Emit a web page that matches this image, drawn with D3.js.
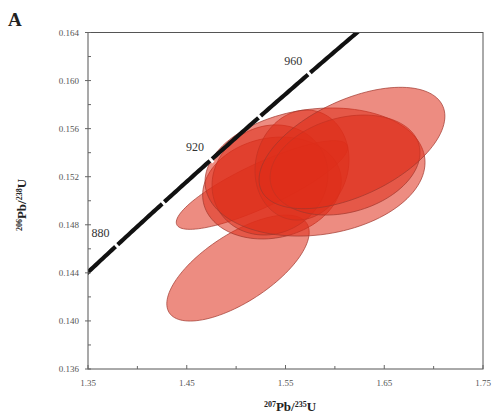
<!DOCTYPE html>
<html><head><meta charset="utf-8">
<script src="https://cdn.jsdelivr.net/npm/d3@7"></script>
<style>body{margin:0;background:#fff}svg{display:block}</style>
</head><body>
<script>
// ---- data ----
const xTicks = [1.35, 1.45, 1.55, 1.65, 1.75];
const xTickLabels = ["1.35", "1.45", "1.55", "1.65", "1.75"];
const yTicks = [0.136, 0.140, 0.144, 0.148, 0.152, 0.156, 0.160, 0.164];
const yTickLabels = ["0.136", "0.140", "0.144", "0.148", "0.152", "0.156", "0.160", "0.164"];
const markerAges = [880, 900, 920, 940, 960];      // Ma
const labelAges = [880, 920, 960];
// ellipse data: 207Pb/235U, 206Pb/238U, half-extent x, half-extent y, rho
const ellX   = [1.5019, 1.5262, 1.5363, 1.5343, 1.5667, 1.5799, 1.6103, 1.6173];
const ellY   = [0.14440, 0.15131, 0.15106, 0.15173, 0.15297, 0.15239, 0.15297, 0.15439];
const ellEx  = [0.0721, 0.0868, 0.0702, 0.0587, 0.0476, 0.1114, 0.0759, 0.0941];
const ellEy  = [0.00441, 0.00369, 0.00424, 0.00458, 0.00458, 0.00533, 0.00416, 0.00505];
const ellRho = [0.674, 0.841, 0.138, 0.10, 0.10, 0.15, 0.25, 0.523];

const L238 = 1.55125e-10, L235 = 9.8485e-10;

// ---- layout ----
const W = 494, H = 419;
const m = {left: 88, right: 11, top: 32.5, bottom: 50};
const svg = d3.select("body").append("svg").attr("width", W).attr("height", H);
const x = d3.scaleLinear().domain([1.35, 1.75]).range([m.left, W - m.right]);
const y = d3.scaleLinear().domain([0.136, 0.164]).range([H - m.bottom, m.top]);
const tf = "'Liberation Serif', 'Times New Roman', serif";

svg.append("defs").append("clipPath").attr("id", "clip")
  .append("rect").attr("x", x(1.35)).attr("y", y(0.164))
  .attr("width", x(1.75) - x(1.35)).attr("height", y(0.136) - y(0.164));

const plot = svg.append("g").attr("clip-path", "url(#clip)");

// ellipses
const line = d3.line().x(d => x(d[0])).y(d => y(d[1])).curve(d3.curveLinearClosed);
ellX.forEach((cx, i) => {
  const pts = d3.range(0, 120).map(k => {
    const t = k / 120 * 2 * Math.PI;
    const r = ellRho[i];
    return [cx + ellEx[i] * Math.cos(t),
            ellY[i] + ellEy[i] * (r * Math.cos(t) + Math.sqrt(1 - r * r) * Math.sin(t))];
  });
  plot.append("path").attr("d", line(pts))
    .attr("fill", "rgb(222,45,25)").attr("fill-opacity", 0.55)
    .attr("stroke", "rgb(160,55,45)").attr("stroke-opacity", 0.7).attr("stroke-width", 1);
});

// concordia
const conc = t => [Math.exp(L235 * t * 1e6) - 1, Math.exp(L238 * t * 1e6) - 1];
const cpts = d3.range(850, 1000, 1).map(conc);
plot.append("path").attr("d", d3.line().x(d => x(d[0])).y(d => y(d[1]))(cpts))
  .attr("fill", "none").attr("stroke", "#111").attr("stroke-width", 4.2);

markerAges.forEach(a => {
  const p = conc(a), q = conc(a + 0.5);
  const px = x(p[0]), py = y(p[1]);
  const ang = Math.atan2(y(q[1]) - py, x(q[0]) - px);
  const dx = Math.cos(ang) * 1.5, dy = Math.sin(ang) * 1.5;
  plot.append("line").attr("x1", px - dx).attr("y1", py - dy).attr("x2", px + dx).attr("y2", py + dy)
    .attr("stroke", "#fff").attr("stroke-width", 7);
});
labelAges.forEach(a => {
  const p = conc(a);
  svg.append("text").attr("x", x(p[0]) - 16).attr("y", y(p[1]) - 9)
    .attr("text-anchor", "middle").attr("font-family", tf)
    .attr("font-size", 12).attr("fill", "#333").text(a);
});

// frame
svg.append("rect").attr("x", x(1.35)).attr("y", y(0.164))
  .attr("width", x(1.75) - x(1.35)).attr("height", y(0.136) - y(0.164))
  .attr("fill", "none").attr("stroke", "#555").attr("stroke-width", 1);

// ticks
const tk = svg.append("g").attr("stroke", "#666").attr("stroke-width", 1);
d3.range(0, 9).forEach(k => {
  const v = 1.35 + k * 0.05;
  const major = k % 2 === 0;
  tk.append("line").attr("x1", x(v)).attr("x2", x(v))
    .attr("y1", y(0.136)).attr("y2", y(0.136) - (major ? 4 : 3));
});
d3.range(0, 15).forEach(k => {
  const v = 0.136 + k * 0.002;
  const major = k % 2 === 0;
  tk.append("line").attr("y1", y(v)).attr("y2", y(v))
    .attr("x1", x(1.35) - (major ? 3 : 0)).attr("x2", x(1.35) + 3);
});

xTicks.forEach((v, i) => {
  svg.append("text").attr("x", x(v)).attr("y", y(0.136) + 17)
    .attr("text-anchor", "middle").attr("font-family", tf).attr("font-size", 9)
    .attr("fill", "#555").text(xTickLabels[i]);
});
yTicks.forEach((v, i) => {
  svg.append("text").attr("x", x(1.35) - 9).attr("y", y(v) + 3)
    .attr("text-anchor", "end").attr("font-family", tf).attr("font-size", 9)
    .attr("fill", "#555").text(yTickLabels[i]);
});

// axis titles
function title(g, a, b, c) {
  g.append("tspan").attr("font-size", 8).attr("dy", -4).text(a);
  g.append("tspan").attr("font-size", 13).attr("dy", 4).text(b);
  g.append("tspan").attr("font-size", 8).attr("dy", -4).text(c);
  g.append("tspan").attr("font-size", 13).attr("dy", 4).text("U");
}
const xt = svg.append("text").attr("x", 290).attr("y", 411).attr("text-anchor", "middle")
  .attr("font-family", tf).attr("font-weight", "bold").attr("fill", "#222");
title(xt, "207", "Pb/", "235");
const yt = svg.append("text").attr("transform", "translate(26,205) rotate(-90)").attr("text-anchor", "middle")
  .attr("font-family", tf).attr("font-weight", "bold").attr("fill", "#222");
title(yt, "206", "Pb/", "238");

svg.append("text").attr("x", 8).attr("y", 26).attr("font-family", tf).attr("font-weight", "bold")
  .attr("font-size", 19).attr("fill", "#222").text("A");
</script>
</body></html>
